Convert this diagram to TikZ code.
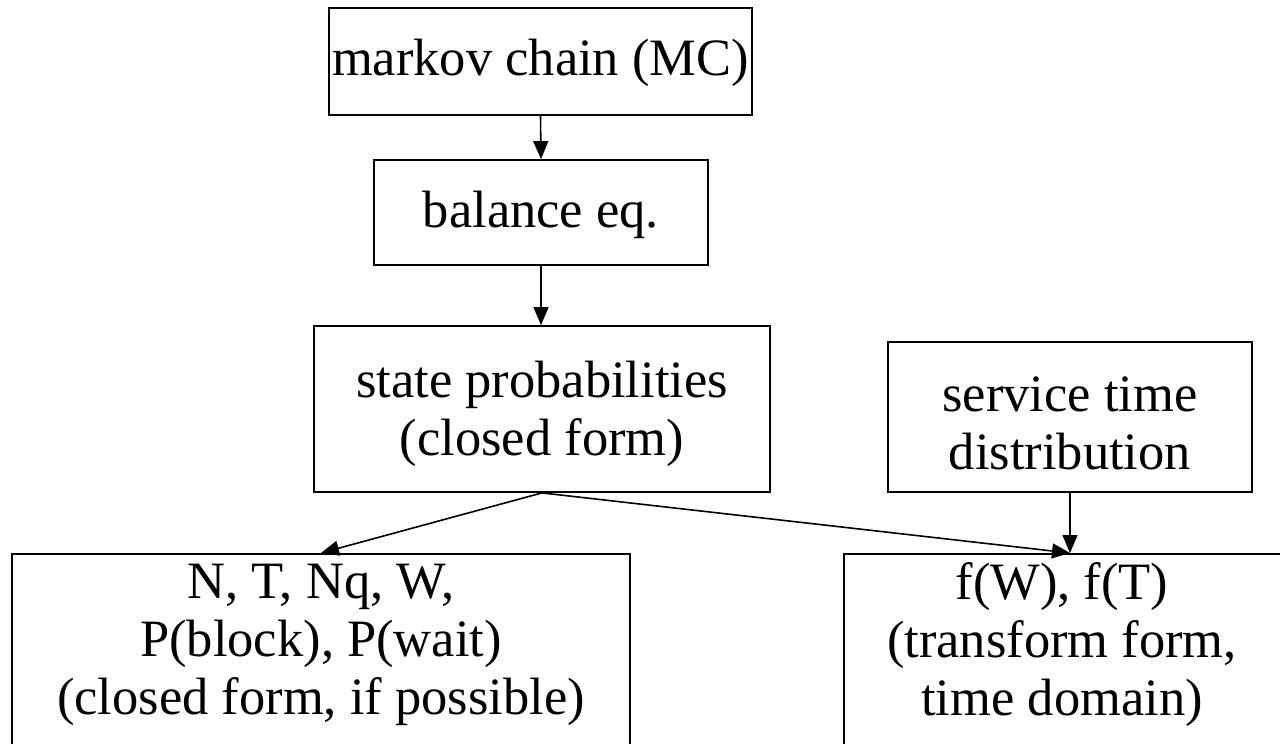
\documentclass[tikz,border=0pt]{standalone}
\usepackage{fontspec}
\setmainfont{Liberation Serif}
\usetikzlibrary{arrows.meta}
\begin{document}
\begin{tikzpicture}[x=1pt,y=-1pt,
  box/.style={draw=black, line width=1.8pt, rectangle, inner sep=0pt},
  txt/.style={align=center, inner sep=0pt, font=\fontsize{52.5}{58}\selectfont},
  conn/.style={draw=black, line width=1.6pt, -{Triangle[length=18pt,width=15pt]}}]
\useasboundingbox (0,0) rectangle (1280,744);
\clip (0,0) rectangle (1280,744);
\node[box, minimum width=423, minimum height=107] (b1) at (540.5,61.5) {};
\node[txt] (t1) at (540.5,63) {markov chain (MC)};
\node[box, minimum width=334, minimum height=105] (b2) at (541,212.5) {};
\node[txt] (t2) at (541,215) {balance eq.};
\node[box, minimum width=456, minimum height=166] (b3) at (542,409) {};
\node[txt] (t3) at (542,414) {state probabilities\\(closed form)};
\node[box, minimum width=364, minimum height=150] (b4) at (1070,417) {};
\node[txt] (t4) at (1070,423) {service time\\distribution};
\node[box, minimum width=618, minimum height=260, anchor=north] (b5) at (321,553) {};
\node[txt] (t5) at (321,645) {N, T, Nq, W,\\P(block), P(wait)\\(closed form, if possible)};
\node[box, minimum width=452, minimum height=260, anchor=north] (b6) at (1070,553) {};
\node[txt] (t6) at (1062,645) {f(W), f(T)\\(transform form,\\time domain)};
\draw[conn] (b1.south) -- (b2.north);
\draw[conn] (b2.south) -- (b2.south |- b3.north);
\draw[conn] (b3.south) -- (b5.north);
\draw[conn] (b3.south) -- (b6.north);
\draw[conn] (b4.south) -- (b6.north);
\end{tikzpicture}
\end{document}
